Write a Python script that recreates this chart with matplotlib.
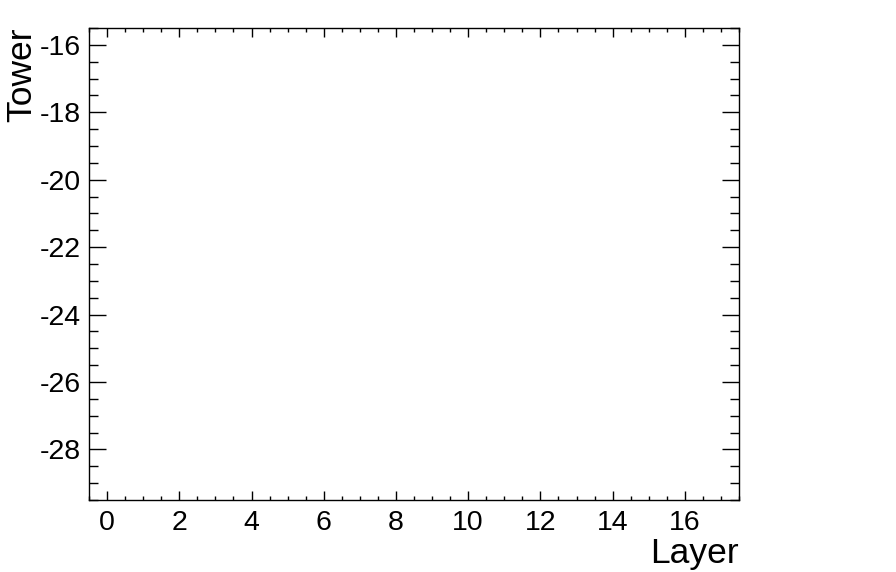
import matplotlib
matplotlib.use('Agg')
import matplotlib.pyplot as plt
import numpy as np
from matplotlib.ticker import MultipleLocator

plt.rcParams['font.family'] = ['Liberation Sans', 'DejaVu Sans']

# axis ranges (layer and tower bins of an empty 2D histogram)
x_range = [-0.5, 17.5]
y_range = [-29.5, -15.5]
x_ticks = [0, 2, 4, 6, 8, 10, 12, 14, 16]
y_ticks = [-28, -26, -24, -22, -20, -18, -16]

W, H = 896, 572
fig = plt.figure(figsize=(W / 100, H / 100), dpi=100)
ax = fig.add_axes([89 / W, 1 - 500 / H, (739 - 89) / W, (500 - 28) / H])
ax.set_xlim(x_range)
ax.set_ylim(y_range)
ax.set_xticks(x_ticks)
ax.set_yticks(y_ticks)
ax.set_xticklabels([str(v) for v in x_ticks])
ax.set_yticklabels([str(v) for v in y_ticks])
ax.xaxis.set_minor_locator(MultipleLocator(0.5))
ax.yaxis.set_minor_locator(MultipleLocator(0.5))

for s in ax.spines.values():
    s.set_linewidth(1.0)

ax.tick_params(axis='both', which='both', direction='in', top=True, right=True,
               width=1.0, labelsize=20.5, colors='black')
ax.tick_params(axis='x', which='major', length=6.5, pad=7)
ax.tick_params(axis='x', which='minor', length=3.2)
ax.tick_params(axis='y', which='major', length=12.5, pad=6)
ax.tick_params(axis='y', which='minor', length=6.3)

ax.set_xlabel('Layer', fontsize=25.5, loc='right', labelpad=1)
ax.set_ylabel('Tower', fontsize=25.5, loc='top', labelpad=1)

fig.savefig('out.png', dpi=100)
